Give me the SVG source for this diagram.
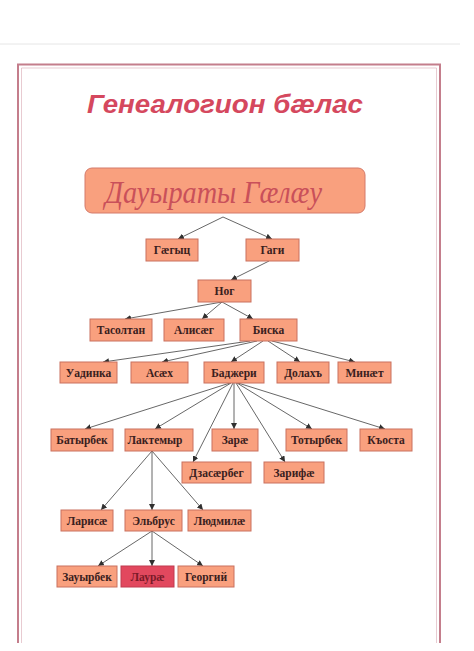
<svg xmlns="http://www.w3.org/2000/svg" width="474" height="651" viewBox="0 0 474 651">
<style>
.n rect{fill:#f9a07e;stroke:#c9705f;stroke-width:1}
.n text{font-family:"Liberation Serif","DejaVu Serif",serif;font-weight:bold;font-size:11.5px;fill:#3a2020;text-anchor:middle}
#conn line{stroke:#404040;stroke-width:0.8;marker-end:url(#ah)}
</style>
<defs>
<marker id="ah" viewBox="0 0 10 10" refX="10" refY="5" markerWidth="6" markerHeight="6" orient="auto" markerUnits="userSpaceOnUse">
<path d="M0,0 L10,5 L0,10 z" fill="#303030"/>
</marker>
</defs>
<rect width="474" height="651" fill="#ffffff"/>
<line x1="0" y1="44" x2="460" y2="44" stroke="#e6e6e6" stroke-width="1"/>
<g id="frame" fill="none" stroke="#c47e8c">
<path d="M18,643 V64.5 H440 V643" stroke-width="2"/>
<path d="M21.5,643 V68 H436.5 V643" stroke-width="0.6" stroke="#d9a8b2"/>
</g>
<text x="225" y="113" font-family="Liberation Sans,Arial,sans-serif" font-weight="bold" font-style="italic" font-size="25" fill="#d5485e" text-anchor="middle" textLength="276" lengthAdjust="spacingAndGlyphs">Генеалогион бæлас</text>
<g id="root">
<rect x="85" y="168" width="280" height="45" rx="7" fill="#f9a07e" stroke="#d47a6a" stroke-width="1"/>
<text x="213.5" y="203" font-family="Liberation Serif,Times New Roman,serif" font-style="italic" font-size="31" fill="#c9505a" text-anchor="middle" textLength="217" lengthAdjust="spacingAndGlyphs">Дауыраты Гæлæу</text>
</g>
<g id="conn">
<line x1="223" y1="217" x2="178" y2="239"/>
<line x1="223" y1="217" x2="272" y2="239"/>
<line x1="269" y1="261" x2="231" y2="280"/>
<line x1="222" y1="302" x2="125" y2="319"/>
<line x1="222" y1="302" x2="202" y2="319"/>
<line x1="222" y1="302" x2="253" y2="319"/>
<line x1="250" y1="341" x2="103" y2="362"/>
<line x1="257" y1="341" x2="162" y2="362"/>
<line x1="263" y1="341" x2="231" y2="362"/>
<line x1="268" y1="341" x2="300" y2="362"/>
<line x1="272" y1="341" x2="355" y2="362"/>
<line x1="230" y1="383" x2="85" y2="429"/>
<line x1="231" y1="383" x2="155" y2="429"/>
<line x1="233" y1="383" x2="193" y2="462"/>
<line x1="234" y1="383" x2="234" y2="429"/>
<line x1="236" y1="383" x2="285" y2="462"/>
<line x1="237" y1="383" x2="312" y2="429"/>
<line x1="238" y1="383" x2="385" y2="429"/>
<line x1="152" y1="451" x2="101" y2="510"/>
<line x1="152" y1="451" x2="152" y2="510"/>
<line x1="152" y1="451" x2="203" y2="510"/>
<line x1="152" y1="531" x2="98" y2="566"/>
<line x1="152" y1="531" x2="152" y2="566"/>
<line x1="152" y1="531" x2="203" y2="566"/>
</g>
<g id="gaegyts" class="n"><rect x="146" y="239" width="52" height="22"/><text x="172" y="254">Гæгыц</text></g>
<g id="gagi" class="n"><rect x="246" y="239" width="53" height="22"/><text x="272.5" y="254">Гаги</text></g>
<g id="nog" class="n"><rect x="198" y="280" width="53" height="22"/><text x="224.5" y="295">Ног</text></g>
<g id="tasoltan" class="n"><rect x="90" y="319" width="62" height="22"/><text x="121" y="334">Тасолтан</text></g>
<g id="alisaeg" class="n"><rect x="164" y="319" width="60" height="22"/><text x="194" y="334">Алисæг</text></g>
<g id="biska" class="n"><rect x="240" y="319" width="57" height="22"/><text x="268.5" y="334">Биска</text></g>
<g id="uadinka" class="n"><rect x="60" y="362" width="57" height="21"/><text x="88.5" y="376.5">Уадинка</text></g>
<g id="asaekh" class="n"><rect x="131" y="362" width="57" height="21"/><text x="159.5" y="376.5">Асæх</text></g>
<g id="badzheri" class="n"><rect x="204" y="362" width="60" height="21"/><text x="234" y="376.5">Баджери</text></g>
<g id="dolakh" class="n"><rect x="277" y="362" width="52" height="21"/><text x="303" y="376.5">Долахъ</text></g>
<g id="minaet" class="n"><rect x="338" y="362" width="53" height="21"/><text x="364.5" y="376.5">Минæт</text></g>
<g id="batyrbek" class="n"><rect x="51" y="429" width="62" height="22"/><text x="82" y="444">Батырбек</text></g>
<g id="laktemyr" class="n"><rect x="125" y="429" width="68" height="22"/><text x="155" y="444">Лактемыр</text></g>
<g id="zarae" class="n"><rect x="212" y="429" width="46" height="22"/><text x="235" y="444">Зарæ</text></g>
<g id="totyrbek" class="n"><rect x="286" y="429" width="61" height="22"/><text x="316.5" y="444">Тотырбек</text></g>
<g id="kosta" class="n"><rect x="360" y="429" width="52" height="22"/><text x="386" y="444">Къоста</text></g>
<g id="dzasaerbeg" class="n"><rect x="182" y="462" width="69" height="21"/><text x="216.5" y="476.5">Дзасæрбег</text></g>
<g id="zarifae" class="n"><rect x="264" y="462" width="60" height="21"/><text x="294" y="476.5">Зарифæ</text></g>
<g id="larisae" class="n"><rect x="61" y="510" width="52" height="21"/><text x="87" y="524.5">Ларисæ</text></g>
<g id="elbrus" class="n"><rect x="125" y="510" width="57" height="21"/><text x="153.5" y="524.5">Эльбрус</text></g>
<g id="lyudmilae" class="n"><rect x="188" y="510" width="63" height="21"/><text x="219.5" y="524.5">Людмилæ</text></g>
<g id="zauyrbek" class="n"><rect x="57" y="566" width="60" height="21"/><text x="87" y="580.5">Зауырбек</text></g>
<g id="laurae" class="n"><rect x="121" y="566" width="53" height="21" style="fill:#e2485e;stroke:#c03a4e"/><text x="147.5" y="580.5" style="fill:#7a1a28">Лаурæ</text></g>
<g id="georgiy" class="n"><rect x="178" y="566" width="56" height="21"/><text x="206" y="580.5">Георгий</text></g>
</svg>
